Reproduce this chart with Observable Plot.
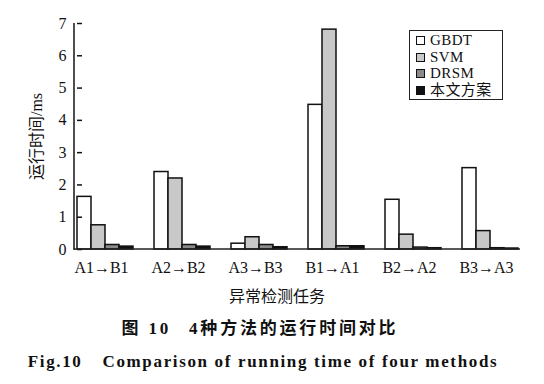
<!DOCTYPE html>
<html><head><meta charset="utf-8">
<script src="https://cdn.jsdelivr.net/npm/d3@7"></script>
<script src="https://cdn.jsdelivr.net/npm/@observablehq/plot@0.6"></script>
<style>
body{margin:0;background:#fff;}
#wrap{position:relative;width:544px;height:384px;overflow:hidden;background:#fff;font-family:"Liberation Serif","Noto Sans CJK SC",serif;color:#111;}
#wrap svg{position:absolute;left:0;top:0;}
.cap{position:absolute;left:0;width:544px;text-align:center;white-space:pre;}
#legend{position:absolute;left:409px;top:30px;width:92px;height:67px;border:1.5px solid #222;padding-top:1px;box-sizing:content-box;background:#fff;}
.row{height:16.7px;line-height:16.7px;font-size:15px;letter-spacing:0.4px;display:flex;align-items:center;white-space:nowrap;font-family:"Liberation Serif","Noto Sans CJK SC",serif;}
.sw{width:7px;height:7px;border:1px solid #111;margin-left:6px;margin-right:5px;flex:none;}
</style></head><body><div id="wrap"></div>
<script>
const tasks = ["A1→B1","A2→B2","A3→B3","B1→A1","B2→A2","B3→A3"];
const methods = ["GBDT","SVM","DRSM","本文方案"];
const gbdt = [1.63, 2.40, 0.18, 4.48, 1.54, 2.52];
const svm  = [0.75, 2.20, 0.38, 6.81, 0.46, 0.57];
const drsm = [0.14, 0.14, 0.14, 0.10, 0.06, 0.04];
const ours = [0.09, 0.09, 0.07, 0.10, 0.04, 0.03];
const colors = ["#ffffff", "#c8c8c8", "#8a8a8a", "#111111"];
const yTicks = [0, 1, 2, 3, 4, 5, 6, 7];
const yLabel = "运行时间/ms";
const xLabel = "异常检测任务";

const series = [gbdt, svm, drsm, ours];
const data = [];
tasks.forEach((t, i) => methods.forEach((m, j) => data.push({task: t, method: m, value: series[j][i]})));

const wrap = document.getElementById("wrap");
const svg = Plot.plot({
  width: 544, height: 284,
  marginLeft: 75, marginRight: 24, marginTop: 23, marginBottom: 35,
  style: {fontFamily: '"Liberation Serif","Noto Sans CJK SC",serif', fontSize: "16px", color: "#111", background: "transparent"},
  fx: {domain: tasks, paddingInner: 0.276, paddingOuter: 0, label: null},
  x: {domain: methods, padding: 0, axis: null},
  y: {domain: [0, 7], ticks: yTicks},
  color: {domain: methods, range: colors},
  marks: [
    Plot.barY(data, {fx: "task", x: "method", y: "value", fill: "method", stroke: "#111", strokeWidth: 1.5, inset: 0}),
    Plot.axisY({ticks: yTicks, tickFormat: d3.format("d"), tickSize: -5, tickPadding: 16, strokeWidth: 1.5, fontSize: 16,
      label: yLabel, labelAnchor: "center", labelOffset: 47, labelArrow: "none"}),
    Plot.axisFx({anchor: "bottom", tickSize: 0, tickPadding: 12, fontSize: 16, dx: -4, label: null})
  ]
});
wrap.appendChild(svg);

// axis lines drawn from the plot's own y scale
const y = svg.scale("y");
const sel = d3.select(svg);
sel.append("line").attr("x1", 74).attr("x2", 74).attr("y1", y.apply(7)).attr("y2", y.apply(0) + 1)
  .attr("stroke", "#222").attr("stroke-width", 1.6);
sel.append("line").attr("x1", 74).attr("x2", 520).attr("y1", y.apply(0)).attr("y2", y.apply(0))
  .attr("stroke", "#222").attr("stroke-width", 1.6);

// legend
const legend = document.createElement("div");
legend.id = "legend";
methods.forEach((m, j) => {
  const r = document.createElement("div"); r.className = "row";
  const s = document.createElement("div"); s.className = "sw"; s.style.background = colors[j];
  const t = document.createElement("span"); t.textContent = m;
  r.appendChild(s); r.appendChild(t); legend.appendChild(r);
});
wrap.appendChild(legend);

function cap(text, top, dx, css) {
  const d = document.createElement("div"); d.className = "cap";
  d.style.top = top + "px"; d.style.transform = `translateX(${dx}px)`;
  Object.assign(d.style, css); d.innerHTML = text; wrap.appendChild(d);
}
cap(xLabel, 285, 5, {fontSize: "16px", lineHeight: "20px", fontFamily: '"Noto Sans CJK SC",sans-serif'});
cap('图 10<span style="display:inline-block;width:18px"></span>4种方法的运行时间对比', 318, -12,
  {fontSize: "17px", lineHeight: "22px", fontWeight: "bold", letterSpacing: "2.8px", fontFamily: '"Liberation Serif","Noto Sans CJK SC",serif'});
cap('Fig.10<span style="display:inline-block;width:20px"></span>Comparison of running time of four methods', 351, -9,
  {fontSize: "17px", lineHeight: "22px", fontWeight: "bold", letterSpacing: "1.65px", fontFamily: '"Liberation Serif",serif'});
</script></body></html>
